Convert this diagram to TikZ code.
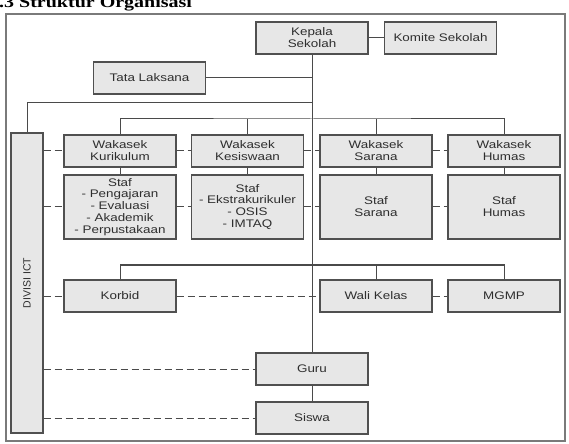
\documentclass[tikz,border=0pt]{standalone}
\usepackage{fontspec}
\setmainfont{Liberation Sans}[FakeStretch=1.22]
\newfontfamily\plainsans{Liberation Sans}
\newfontfamily\titleserif{Liberation Serif}[FakeStretch=1.25]
\definecolor{boxfill}{HTML}{E7E7E7}
\definecolor{linegray}{HTML}{4A4A4A}
\definecolor{boxline}{HTML}{505050}
\definecolor{textgray}{HTML}{2E2E2E}
\definecolor{framegray}{HTML}{7A7A7A}
\begin{document}
\begin{tikzpicture}[x=1bp,y=-1bp,
  box/.style={draw=boxline, fill=boxfill, line width=1.1bp, minimum width=112bp,
    minimum height=32bp, inner sep=0pt, align=center, text=textgray,
    font=\fontsize{11bp}{11.9bp}\selectfont},
  tallbox/.style={box, minimum height=64bp},
  conn/.style={draw=linegray, line width=1bp},
  dconn/.style={conn, dash pattern=on 7bp off 4bp}]
\useasboundingbox (0,0) rectangle (569,444);
\fill[white] (0,0) rectangle (569,444);
% title
\node[anchor=base west, inner sep=0pt, text=black,
  font=\titleserif\bfseries\fontsize{16bp}{16bp}\selectfont] (title) at (-1,7.5) {.3 Struktur Organisasi};
% frame
\draw[framegray, line width=1.5bp] (6,14) rectangle (565,441);
% nodes
\node[box] (kepala) at (312,38) {Kepala\\Sekolah};
\node[box] (komite) at (440.5,38) {Komite Sekolah};
\node[box] (tata) at (149.5,78) {Tata Laksana};
\node[box, minimum width=32bp, minimum height=300bp] (divisi) at (27,283) {};
\node[rotate=90, inner sep=0pt, text=textgray, font=\plainsans\fontsize{10.5bp}{12bp}\selectfont] (divisilabel) at (divisi.center) {DIVISI ICT};
\node[box] (wk) at (120,151) {Wakasek\\Kurikulum};
\node[box] (wks) at (247.5,151) {Wakasek\\Kesiswaan};
\node[box] (wsa) at (376,151) {Wakasek\\Sarana};
\node[box] (wh) at (504,151) {Wakasek\\Humas};
\node[tallbox] (sk) at (120,207) {Staf\\- Pengajaran\\- Evaluasi\\- Akademik\\- Perpustakaan};
\node[tallbox] (sks) at (247.5,207) {Staf\\- Ekstrakurikuler\\- OSIS\\- IMTAQ};
\node[tallbox] (ssa) at (376,207) {Staf\\Sarana};
\node[tallbox] (sh) at (504,207) {Staf\\Humas};
\node[box] (korbid) at (120,296) {Korbid};
\node[box] (wali) at (376,296) {Wali Kelas};
\node[box] (mgmp) at (504,296) {MGMP};
\node[box] (guru) at (312,369) {Guru};
\node[box] (siswa) at (312,418) {Siswa};
% junctions
\coordinate (jtata) at (312,78);
\coordinate (jdiv) at (312,103);
\coordinate (bus) at (312,119);
\coordinate (bus2) at (312,265);
% solid connectors
\draw[conn] (kepala) -- (komite);
\draw[conn] (kepala.south) -- (guru.north);
\draw[conn] (tata.east) -- (jtata);
\draw[conn] (jdiv) -| (divisi.north);
\draw[conn] (wk.north) |- (bus) -| (wh.north);
\draw[conn] (wks.north) -- (wks.north |- bus);
\draw[conn] (wsa.north) -- (wsa.north |- bus);
\draw[conn] (wk) -- (sk);
\draw[conn] (wks) -- (sks);
\draw[conn] (wsa) -- (ssa);
\draw[conn] (wh) -- (sh);
\draw[conn] (korbid.north) |- (bus2) -| (mgmp.north);
\draw[conn] (wali.north) -- (wali.north |- bus2);
\draw[conn] (guru) -- (siswa);
% dashed connectors
\draw[dconn] (divisi.east |- wk.west) -- (wk.west);
\draw[dconn] (wk.east) -- (wks.west);
\draw[dconn] (wks.east) -- (wsa.west);
\draw[dconn] (wsa.east) -- (wh.west);
\draw[dconn] (divisi.east |- sk.west) -- (sk.west);
\draw[dconn] (sk.east) -- (sks.west);
\draw[dconn] (sks.east) -- (ssa.west);
\draw[dconn] (ssa.east) -- (sh.west);
\draw[dconn] (divisi.east |- korbid.west) -- (korbid.west);
\draw[dconn] (korbid.east) -- (wali.west);
\draw[dconn] (wali.east) -- (mgmp.west);
\draw[dconn] (divisi.east |- guru.west) -- (guru.west);
\draw[dconn] (divisi.east |- siswa.west) -- (siswa.west);
\end{tikzpicture}
\end{document}
